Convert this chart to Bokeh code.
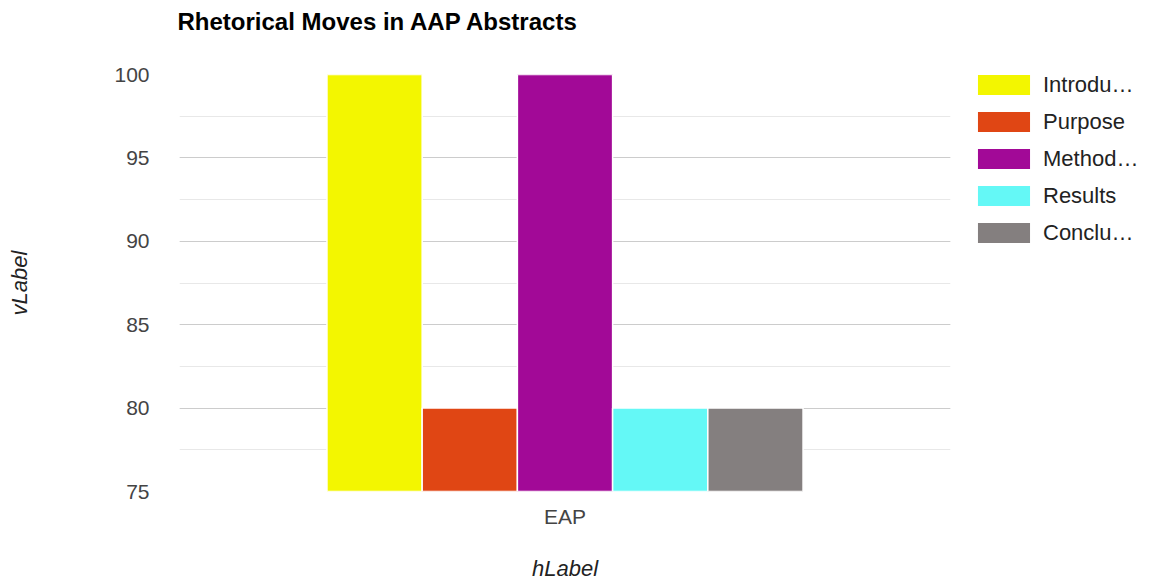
from bokeh.plotting import figure
from bokeh.models import ColumnDataSource, Range1d, FactorRange, SingleIntervalTicker, Legend, LegendItem, Title
from bokeh.transform import dodge
from bokeh.embed import file_html
from bokeh.resources import INLINE

title = "Rhetorical Moves in AAP Abstracts"
categories = ["EAP"]
series_names = ["Introdu\u2026", "Purpose", "Method\u2026", "Results", "Conclu\u2026"]
series_values = [100, 80, 100, 80, 80]
colors = ["#f3f600", "#e04614", "#a20997", "#64f8f6", "#847f7f"]
y_min, y_max = 75, 100

FONT = "Liberation Sans"

p = figure(frame_width=771, frame_height=417, x_range=FactorRange(*categories), y_range=Range1d(y_min, y_max),
           output_backend="svg", toolbar_location=None,
           min_border_left=179, min_border_right=0, min_border_top=0, min_border_bottom=91)
p.outline_line_color = None

p.title.text = title
p.title.text_font = FONT
p.title.text_font_size = "24px"
p.title.text_font_style = "bold"
p.title.text_color = "#000000"
p.title.offset = -2

spacer = Title(text=" ", text_font_size="21px")
p.add_layout(spacer, "above")

bw = 0.1235
items = []
n = len(series_names)
for i, (name, val, col) in enumerate(zip(series_names, series_values, colors)):
    src = ColumnDataSource(dict(x=categories, top=[val]))
    off = (i - (n - 1) / 2) * bw
    r = p.vbar(x=dodge("x", off, range=p.x_range), top="top", bottom=y_min, width=bw,
               source=src, fill_color=col, line_color="white", line_width=1.5)
    items.append(LegendItem(label=name, renderers=[r]))

legend = Legend(items=items, location=(20, 245), glyph_width=67, glyph_height=27,
                label_standoff=6, spacing=10, padding=0, margin=0, border_line_color=None,
                label_text_font=FONT, label_text_font_size="22px", label_text_color="#222222",
                label_height=27)
p.add_layout(legend, "right")

p.yaxis.ticker = SingleIntervalTicker(interval=5, num_minor_ticks=2)
p.ygrid.grid_line_color = "#cccccc"
p.ygrid.minor_grid_line_color = "#e8e8e8"
p.xgrid.grid_line_color = None

for ax in (p.xaxis, p.yaxis):
    ax.axis_line_color = None
    ax.major_tick_line_color = None
    ax.minor_tick_line_color = None
    ax.major_label_text_font = FONT
    ax.major_label_text_font_size = "21px"
    ax.major_label_text_color = "#444444"
    ax.axis_label_text_font = FONT
    ax.axis_label_text_font_size = "22px"
    ax.axis_label_text_font_style = "italic"
    ax.axis_label_text_color = "#222222"

p.yaxis.axis_label = "vLabel"
p.yaxis.major_label_standoff = 24
p.yaxis.axis_label_standoff = 79
p.xaxis.axis_label = "hLabel"
p.xaxis.major_label_standoff = 7
p.xaxis.axis_label_standoff = 25

open("out.html", "w").write(file_html(p, INLINE))
